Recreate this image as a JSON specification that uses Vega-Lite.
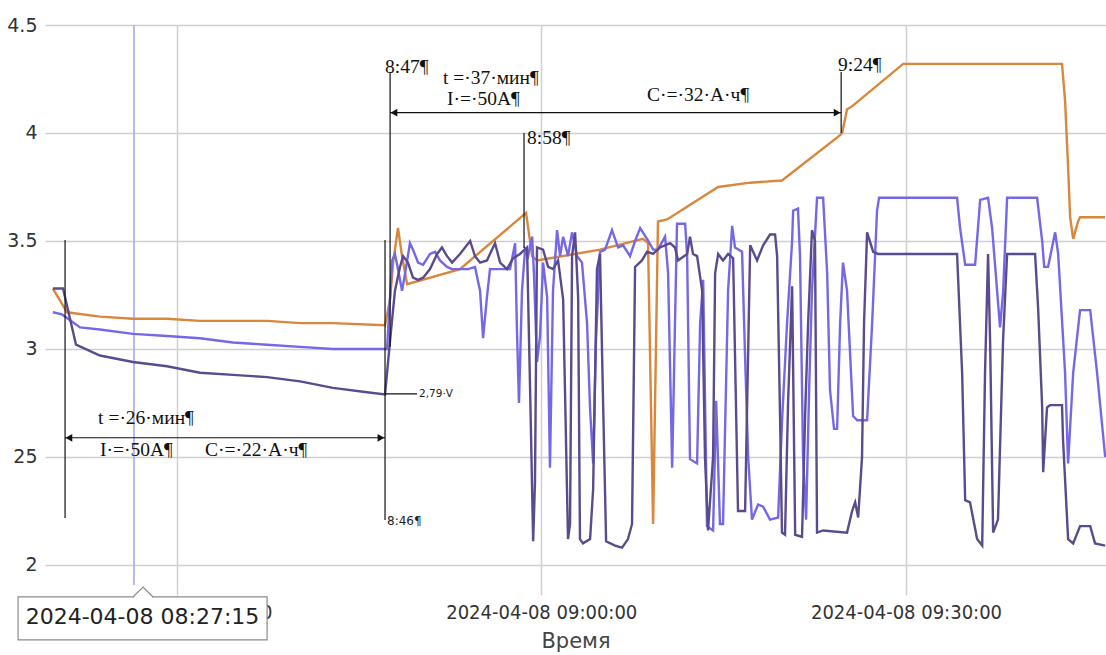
{
  "$schema": "https://vega.github.io/schema/vega-lite/v6.json",
  "width": 1061,
  "height": 560,
  "autosize": "none",
  "padding": {"left": 45, "top": 25, "right": 0, "bottom": 70},
  "background": "white",
  "config": {"view": {"stroke": null}},
  "datasets": {
    "volt": [
      {"s":"o","t":"2024-04-08T08:19:50","v":3.28},{"s":"o","t":"2024-04-08T08:21:00","v":3.17},{"s":"o","t":"2024-04-08T08:23:42","v":3.15},{"s":"o","t":"2024-04-08T08:26:25","v":3.14},{"s":"o","t":"2024-04-08T08:29:13","v":3.14},{"s":"o","t":"2024-04-08T08:31:56","v":3.13},{"s":"o","t":"2024-04-08T08:34:39","v":3.13},{"s":"o","t":"2024-04-08T08:37:27","v":3.13},{"s":"o","t":"2024-04-08T08:40:10","v":3.12},{"s":"o","t":"2024-04-08T08:42:52","v":3.12},{"s":"o","t":"2024-04-08T08:47:09","v":3.11},{"s":"o","t":"2024-04-08T08:47:34","v":3.23},{"s":"o","t":"2024-04-08T08:47:49","v":3.40},{"s":"o","t":"2024-04-08T08:48:13","v":3.56},{"s":"o","t":"2024-04-08T08:48:33","v":3.43},{"s":"o","t":"2024-04-08T08:48:58","v":3.30},{"s":"o","t":"2024-04-08T08:53:19","v":3.37},{"s":"o","t":"2024-04-08T08:58:45","v":3.63},{"s":"o","t":"2024-04-08T08:59:15","v":3.43},{"s":"o","t":"2024-04-08T08:59:39","v":3.41},{"s":"o","t":"2024-04-08T09:00:43","v":3.42},{"s":"o","t":"2024-04-08T09:04:50","v":3.46},{"s":"o","t":"2024-04-08T09:08:22","v":3.51},{"s":"o","t":"2024-04-08T09:08:47","v":3.49},{"s":"o","t":"2024-04-08T09:09:12","v":2.19},{"s":"o","t":"2024-04-08T09:09:36","v":3.59},{"s":"o","t":"2024-04-08T09:10:21","v":3.60},{"s":"o","t":"2024-04-08T09:14:33","v":3.75},{"s":"o","t":"2024-04-08T09:17:11","v":3.77},{"s":"o","t":"2024-04-08T09:19:48","v":3.78},{"s":"o","t":"2024-04-08T09:24:35","v":3.99},{"s":"o","t":"2024-04-08T09:24:45","v":4.00},{"s":"o","t":"2024-04-08T09:25:09","v":4.11},{"s":"o","t":"2024-04-08T09:25:29","v":4.12},{"s":"o","t":"2024-04-08T09:29:46","v":4.32},{"s":"o","t":"2024-04-08T09:42:50","v":4.32},{"s":"o","t":"2024-04-08T09:43:05","v":4.15},{"s":"o","t":"2024-04-08T09:43:20","v":3.84},{"s":"o","t":"2024-04-08T09:43:30","v":3.61},{"s":"o","t":"2024-04-08T09:43:45","v":3.51},{"s":"o","t":"2024-04-08T09:44:09","v":3.59},{"s":"o","t":"2024-04-08T09:44:19","v":3.61},{"s":"o","t":"2024-04-08T09:46:23","v":3.61},

      {"s":"v","t":"2024-04-08T08:19:50","v":3.17},{"s":"v","t":"2024-04-08T08:20:35","v":3.16},{"s":"v","t":"2024-04-08T08:22:04","v":3.10},{"s":"v","t":"2024-04-08T08:23:42","v":3.09},{"s":"v","t":"2024-04-08T08:26:25","v":3.07},{"s":"v","t":"2024-04-08T08:29:13","v":3.06},{"s":"v","t":"2024-04-08T08:31:56","v":3.05},{"s":"v","t":"2024-04-08T08:34:39","v":3.03},{"s":"v","t":"2024-04-08T08:37:27","v":3.02},{"s":"v","t":"2024-04-08T08:40:10","v":3.01},{"s":"v","t":"2024-04-08T08:42:52","v":3.00},{"s":"v","t":"2024-04-08T08:47:09","v":3.00},{"s":"v","t":"2024-04-08T08:47:19","v":3.00},{"s":"v","t":"2024-04-08T08:47:44","v":3.41},{"s":"v","t":"2024-04-08T08:47:58","v":3.44},{"s":"v","t":"2024-04-08T08:48:13","v":3.37},{"s":"v","t":"2024-04-08T08:48:33","v":3.27},{"s":"v","t":"2024-04-08T08:48:48","v":3.35},{"s":"v","t":"2024-04-08T08:49:12","v":3.49},{"s":"v","t":"2024-04-08T08:49:27","v":3.46},{"s":"v","t":"2024-04-08T08:49:52","v":3.40},{"s":"v","t":"2024-04-08T08:50:17","v":3.39},{"s":"v","t":"2024-04-08T08:50:51","v":3.44},{"s":"v","t":"2024-04-08T08:51:16","v":3.45},{"s":"v","t":"2024-04-08T08:51:40","v":3.41},{"s":"v","t":"2024-04-08T08:52:15","v":3.38},{"s":"v","t":"2024-04-08T08:52:40","v":3.37},{"s":"v","t":"2024-04-08T08:53:59","v":3.37},{"s":"v","t":"2024-04-08T08:54:33","v":3.38},{"s":"v","t":"2024-04-08T08:54:58","v":3.27},{"s":"v","t":"2024-04-08T08:55:13","v":3.05},{"s":"v","t":"2024-04-08T08:55:32","v":3.24},{"s":"v","t":"2024-04-08T08:55:47","v":3.37},{"s":"v","t":"2024-04-08T08:57:26","v":3.37},{"s":"v","t":"2024-04-08T08:57:51","v":3.49},{"s":"v","t":"2024-04-08T08:58:00","v":3.09},{"s":"v","t":"2024-04-08T08:58:10","v":2.75},{"s":"v","t":"2024-04-08T08:58:25","v":3.27},{"s":"v","t":"2024-04-08T08:58:40","v":3.46},{"s":"v","t":"2024-04-08T08:58:55","v":3.43},{"s":"v","t":"2024-04-08T08:59:15","v":3.52},{"s":"v","t":"2024-04-08T08:59:24","v":3.35},{"s":"v","t":"2024-04-08T08:59:39","v":2.94},{"s":"v","t":"2024-04-08T08:59:54","v":3.06},{"s":"v","t":"2024-04-08T09:00:09","v":3.40},{"s":"v","t":"2024-04-08T09:00:29","v":3.24},{"s":"v","t":"2024-04-08T09:00:43","v":2.45},{"s":"v","t":"2024-04-08T09:00:58","v":3.27},{"s":"v","t":"2024-04-08T09:01:18","v":3.55},{"s":"v","t":"2024-04-08T09:01:33","v":3.43},{"s":"v","t":"2024-04-08T09:01:48","v":3.52},{"s":"v","t":"2024-04-08T09:02:12","v":3.43},{"s":"v","t":"2024-04-08T09:02:32","v":3.54},{"s":"v","t":"2024-04-08T09:02:57","v":3.43},{"s":"v","t":"2024-04-08T09:03:21","v":3.40},{"s":"v","t":"2024-04-08T09:03:46","v":3.12},{"s":"v","t":"2024-04-08T09:04:01","v":2.72},{"s":"v","t":"2024-04-08T09:04:16","v":2.47},{"s":"v","t":"2024-04-08T09:04:30","v":3.04},{"s":"v","t":"2024-04-08T09:04:50","v":3.45},{"s":"v","t":"2024-04-08T09:05:15","v":3.46},{"s":"v","t":"2024-04-08T09:05:49","v":3.55},{"s":"v","t":"2024-04-08T09:06:19","v":3.47},{"s":"v","t":"2024-04-08T09:06:44","v":3.48},{"s":"v","t":"2024-04-08T09:07:18","v":3.43},{"s":"v","t":"2024-04-08T09:07:43","v":3.50},{"s":"v","t":"2024-04-08T09:08:08","v":3.56},{"s":"v","t":"2024-04-08T09:08:42","v":3.51},{"s":"v","t":"2024-04-08T09:09:12","v":3.46},{"s":"v","t":"2024-04-08T09:09:36","v":3.46},{"s":"v","t":"2024-04-08T09:10:11","v":3.52},{"s":"v","t":"2024-04-08T09:10:26","v":3.35},{"s":"v","t":"2024-04-08T09:10:46","v":2.45},{"s":"v","t":"2024-04-08T09:11:00","v":3.12},{"s":"v","t":"2024-04-08T09:11:10","v":3.58},{"s":"v","t":"2024-04-08T09:11:50","v":3.58},{"s":"v","t":"2024-04-08T09:12:00","v":3.43},{"s":"v","t":"2024-04-08T09:12:14","v":2.49},{"s":"v","t":"2024-04-08T09:12:49","v":2.47},{"s":"v","t":"2024-04-08T09:13:04","v":3.12},{"s":"v","t":"2024-04-08T09:13:19","v":3.32},{"s":"v","t":"2024-04-08T09:13:38","v":2.18},{"s":"v","t":"2024-04-08T09:14:08","v":2.16},{"s":"v","t":"2024-04-08T09:14:23","v":2.76},{"s":"v","t":"2024-04-08T09:14:42","v":2.19},{"s":"v","t":"2024-04-08T09:14:57","v":2.19},{"s":"v","t":"2024-04-08T09:15:22","v":3.27},{"s":"v","t":"2024-04-08T09:15:42","v":3.57},{"s":"v","t":"2024-04-08T09:15:56","v":3.47},{"s":"v","t":"2024-04-08T09:16:31","v":3.45},{"s":"v","t":"2024-04-08T09:16:46","v":2.96},{"s":"v","t":"2024-04-08T09:17:01","v":2.50},{"s":"v","t":"2024-04-08T09:17:20","v":2.21},{"s":"v","t":"2024-04-08T09:17:50","v":2.28},{"s":"v","t":"2024-04-08T09:18:15","v":2.27},{"s":"v","t":"2024-04-08T09:18:49","v":2.21},{"s":"v","t":"2024-04-08T09:19:29","v":2.22},{"s":"v","t":"2024-04-08T09:19:48","v":2.66},{"s":"v","t":"2024-04-08T09:20:13","v":3.12},{"s":"v","t":"2024-04-08T09:20:38","v":3.50},{"s":"v","t":"2024-04-08T09:20:43","v":3.64},{"s":"v","t":"2024-04-08T09:21:07","v":3.65},{"s":"v","t":"2024-04-08T09:21:17","v":3.43},{"s":"v","t":"2024-04-08T09:21:32","v":2.50},{"s":"v","t":"2024-04-08T09:21:47","v":2.21},{"s":"v","t":"2024-04-08T09:22:02","v":2.81},{"s":"v","t":"2024-04-08T09:22:16","v":3.27},{"s":"v","t":"2024-04-08T09:22:41","v":3.70},{"s":"v","t":"2024-04-08T09:23:11","v":3.70},{"s":"v","t":"2024-04-08T09:23:31","v":3.35},{"s":"v","t":"2024-04-08T09:23:45","v":2.81},{"s":"v","t":"2024-04-08T09:24:05","v":2.63},{"s":"v","t":"2024-04-08T09:24:20","v":2.63},{"s":"v","t":"2024-04-08T09:24:35","v":3.12},{"s":"v","t":"2024-04-08T09:24:49","v":3.40},{"s":"v","t":"2024-04-08T09:25:09","v":3.27},{"s":"v","t":"2024-04-08T09:25:39","v":2.69},{"s":"v","t":"2024-04-08T09:25:59","v":2.67},{"s":"v","t":"2024-04-08T09:26:48","v":2.67},{"s":"v","t":"2024-04-08T09:27:13","v":3.12},{"s":"v","t":"2024-04-08T09:27:37","v":3.64},{"s":"v","t":"2024-04-08T09:27:47","v":3.70},{"s":"v","t":"2024-04-08T09:34:12","v":3.70},{"s":"v","t":"2024-04-08T09:34:27","v":3.56},{"s":"v","t":"2024-04-08T09:34:52","v":3.39},{"s":"v","t":"2024-04-08T09:35:41","v":3.39},{"s":"v","t":"2024-04-08T09:36:06","v":3.69},{"s":"v","t":"2024-04-08T09:36:45","v":3.70},{"s":"v","t":"2024-04-08T09:37:05","v":3.56},{"s":"v","t":"2024-04-08T09:37:44","v":3.10},{"s":"v","t":"2024-04-08T09:37:59","v":3.26},{"s":"v","t":"2024-04-08T09:38:19","v":3.70},{"s":"v","t":"2024-04-08T09:40:47","v":3.70},{"s":"v","t":"2024-04-08T09:41:12","v":3.50},{"s":"v","t":"2024-04-08T09:41:22","v":3.38},{"s":"v","t":"2024-04-08T09:41:41","v":3.38},{"s":"v","t":"2024-04-08T09:42:16","v":3.54},{"s":"v","t":"2024-04-08T09:42:31","v":3.44},{"s":"v","t":"2024-04-08T09:43:05","v":2.89},{"s":"v","t":"2024-04-08T09:43:20","v":2.47},{"s":"v","t":"2024-04-08T09:43:45","v":2.89},{"s":"v","t":"2024-04-08T09:44:19","v":3.18},{"s":"v","t":"2024-04-08T09:45:09","v":3.18},{"s":"v","t":"2024-04-08T09:45:43","v":2.89},{"s":"v","t":"2024-04-08T09:46:23","v":2.50},

      {"s":"d","t":"2024-04-08T08:19:50","v":3.28},{"s":"d","t":"2024-04-08T08:20:40","v":3.28},{"s":"d","t":"2024-04-08T08:21:44","v":3.02},{"s":"d","t":"2024-04-08T08:23:42","v":2.97},{"s":"d","t":"2024-04-08T08:26:25","v":2.94},{"s":"d","t":"2024-04-08T08:29:13","v":2.92},{"s":"d","t":"2024-04-08T08:31:56","v":2.89},{"s":"d","t":"2024-04-08T08:34:39","v":2.88},{"s":"d","t":"2024-04-08T08:37:27","v":2.87},{"s":"d","t":"2024-04-08T08:40:10","v":2.85},{"s":"d","t":"2024-04-08T08:42:52","v":2.82},{"s":"d","t":"2024-04-08T08:45:40","v":2.80},{"s":"d","t":"2024-04-08T08:47:09","v":2.79},{"s":"d","t":"2024-04-08T08:47:34","v":3.04},{"s":"d","t":"2024-04-08T08:47:58","v":3.27},{"s":"d","t":"2024-04-08T08:48:23","v":3.38},{"s":"d","t":"2024-04-08T08:48:38","v":3.43},{"s":"d","t":"2024-04-08T08:49:02","v":3.40},{"s":"d","t":"2024-04-08T08:49:27","v":3.33},{"s":"d","t":"2024-04-08T08:49:52","v":3.32},{"s":"d","t":"2024-04-08T08:50:17","v":3.33},{"s":"d","t":"2024-04-08T08:50:51","v":3.37},{"s":"d","t":"2024-04-08T08:51:26","v":3.44},{"s":"d","t":"2024-04-08T08:51:50","v":3.47},{"s":"d","t":"2024-04-08T08:52:15","v":3.43},{"s":"d","t":"2024-04-08T08:52:40","v":3.40},{"s":"d","t":"2024-04-08T08:53:19","v":3.44},{"s":"d","t":"2024-04-08T08:54:09","v":3.50},{"s":"d","t":"2024-04-08T08:54:33","v":3.43},{"s":"d","t":"2024-04-08T08:54:58","v":3.40},{"s":"d","t":"2024-04-08T08:55:32","v":3.41},{"s":"d","t":"2024-04-08T08:56:12","v":3.49},{"s":"d","t":"2024-04-08T08:56:37","v":3.40},{"s":"d","t":"2024-04-08T08:57:11","v":3.37},{"s":"d","t":"2024-04-08T08:57:41","v":3.42},{"s":"d","t":"2024-04-08T08:58:15","v":3.44},{"s":"d","t":"2024-04-08T08:58:50","v":3.47},{"s":"d","t":"2024-04-08T08:59:05","v":2.81},{"s":"d","t":"2024-04-08T08:59:20","v":2.11},{"s":"d","t":"2024-04-08T08:59:29","v":2.38},{"s":"d","t":"2024-04-08T08:59:39","v":3.47},{"s":"d","t":"2024-04-08T09:00:09","v":3.46},{"s":"d","t":"2024-04-08T09:00:34","v":3.38},{"s":"d","t":"2024-04-08T09:00:58","v":3.37},{"s":"d","t":"2024-04-08T09:01:23","v":3.41},{"s":"d","t":"2024-04-08T09:01:48","v":3.23},{"s":"d","t":"2024-04-08T09:02:07","v":2.35},{"s":"d","t":"2024-04-08T09:02:12","v":2.12},{"s":"d","t":"2024-04-08T09:02:22","v":2.19},{"s":"d","t":"2024-04-08T09:02:32","v":3.43},{"s":"d","t":"2024-04-08T09:02:47","v":3.54},{"s":"d","t":"2024-04-08T09:03:02","v":3.24},{"s":"d","t":"2024-04-08T09:03:11","v":2.12},{"s":"d","t":"2024-04-08T09:03:26","v":2.10},{"s":"d","t":"2024-04-08T09:04:01","v":2.12},{"s":"d","t":"2024-04-08T09:04:16","v":2.35},{"s":"d","t":"2024-04-08T09:04:35","v":3.37},{"s":"d","t":"2024-04-08T09:04:50","v":3.44},{"s":"d","t":"2024-04-08T09:05:05","v":2.76},{"s":"d","t":"2024-04-08T09:05:20","v":2.11},{"s":"d","t":"2024-04-08T09:06:04","v":2.09},{"s":"d","t":"2024-04-08T09:06:39","v":2.08},{"s":"d","t":"2024-04-08T09:07:08","v":2.12},{"s":"d","t":"2024-04-08T09:07:28","v":2.19},{"s":"d","t":"2024-04-08T09:07:43","v":3.38},{"s":"d","t":"2024-04-08T09:08:17","v":3.41},{"s":"d","t":"2024-04-08T09:08:42","v":3.45},{"s":"d","t":"2024-04-08T09:09:12","v":3.44},{"s":"d","t":"2024-04-08T09:09:46","v":3.47},{"s":"d","t":"2024-04-08T09:10:36","v":3.49},{"s":"d","t":"2024-04-08T09:11:00","v":3.47},{"s":"d","t":"2024-04-08T09:11:15","v":3.41},{"s":"d","t":"2024-04-08T09:12:00","v":3.44},{"s":"d","t":"2024-04-08T09:12:14","v":3.52},{"s":"d","t":"2024-04-08T09:12:29","v":3.44},{"s":"d","t":"2024-04-08T09:12:49","v":3.43},{"s":"d","t":"2024-04-08T09:13:14","v":3.27},{"s":"d","t":"2024-04-08T09:13:28","v":2.50},{"s":"d","t":"2024-04-08T09:13:43","v":2.16},{"s":"d","t":"2024-04-08T09:14:08","v":2.50},{"s":"d","t":"2024-04-08T09:14:18","v":3.35},{"s":"d","t":"2024-04-08T09:14:33","v":3.44},{"s":"d","t":"2024-04-08T09:14:57","v":3.41},{"s":"d","t":"2024-04-08T09:15:22","v":3.44},{"s":"d","t":"2024-04-08T09:15:47","v":3.42},{"s":"d","t":"2024-04-08T09:16:11","v":2.25},{"s":"d","t":"2024-04-08T09:16:46","v":2.25},{"s":"d","t":"2024-04-08T09:17:11","v":3.48},{"s":"d","t":"2024-04-08T09:17:45","v":3.41},{"s":"d","t":"2024-04-08T09:18:15","v":3.48},{"s":"d","t":"2024-04-08T09:18:49","v":3.53},{"s":"d","t":"2024-04-08T09:19:14","v":3.53},{"s":"d","t":"2024-04-08T09:19:24","v":3.43},{"s":"d","t":"2024-04-08T09:19:39","v":2.66},{"s":"d","t":"2024-04-08T09:19:48","v":2.15},{"s":"d","t":"2024-04-08T09:20:03","v":2.14},{"s":"d","t":"2024-04-08T09:20:18","v":2.75},{"s":"d","t":"2024-04-08T09:20:38","v":3.29},{"s":"d","t":"2024-04-08T09:20:53","v":2.14},{"s":"d","t":"2024-04-08T09:21:27","v":2.13},{"s":"d","t":"2024-04-08T09:21:42","v":2.69},{"s":"d","t":"2024-04-08T09:21:57","v":3.12},{"s":"d","t":"2024-04-08T09:22:16","v":3.55},{"s":"d","t":"2024-04-08T09:22:31","v":3.50},{"s":"d","t":"2024-04-08T09:22:41","v":2.15},{"s":"d","t":"2024-04-08T09:23:11","v":2.16},{"s":"d","t":"2024-04-08T09:25:09","v":2.15},{"s":"d","t":"2024-04-08T09:25:34","v":2.25},{"s":"d","t":"2024-04-08T09:25:49","v":2.29},{"s":"d","t":"2024-04-08T09:26:04","v":2.22},{"s":"d","t":"2024-04-08T09:26:23","v":2.50},{"s":"d","t":"2024-04-08T09:26:33","v":3.12},{"s":"d","t":"2024-04-08T09:26:48","v":3.54},{"s":"d","t":"2024-04-08T09:27:18","v":3.45},{"s":"d","t":"2024-04-08T09:27:42","v":3.44},{"s":"d","t":"2024-04-08T09:34:12","v":3.44},{"s":"d","t":"2024-04-08T09:34:37","v":2.89},{"s":"d","t":"2024-04-08T09:34:52","v":2.30},{"s":"d","t":"2024-04-08T09:35:16","v":2.29},{"s":"d","t":"2024-04-08T09:35:51","v":2.12},{"s":"d","t":"2024-04-08T09:36:16","v":2.09},{"s":"d","t":"2024-04-08T09:36:30","v":2.89},{"s":"d","t":"2024-04-08T09:36:45","v":3.44},{"s":"d","t":"2024-04-08T09:36:55","v":3.04},{"s":"d","t":"2024-04-08T09:37:10","v":2.15},{"s":"d","t":"2024-04-08T09:37:34","v":2.21},{"s":"d","t":"2024-04-08T09:37:59","v":3.04},{"s":"d","t":"2024-04-08T09:38:19","v":3.44},{"s":"d","t":"2024-04-08T09:40:37","v":3.44},{"s":"d","t":"2024-04-08T09:40:52","v":3.19},{"s":"d","t":"2024-04-08T09:41:12","v":2.73},{"s":"d","t":"2024-04-08T09:41:17","v":2.43},{"s":"d","t":"2024-04-08T09:41:36","v":2.73},{"s":"d","t":"2024-04-08T09:41:51","v":2.74},{"s":"d","t":"2024-04-08T09:42:50","v":2.74},{"s":"d","t":"2024-04-08T09:42:55","v":2.58},{"s":"d","t":"2024-04-08T09:43:20","v":2.12},{"s":"d","t":"2024-04-08T09:43:45","v":2.10},{"s":"d","t":"2024-04-08T09:44:19","v":2.18},{"s":"d","t":"2024-04-08T09:45:09","v":2.18},{"s":"d","t":"2024-04-08T09:45:33","v":2.10},{"s":"d","t":"2024-04-08T09:46:23","v":2.09}
    ],
    "cursor": [{"t":"2024-04-08T08:26:30","v":4.5,"v2":1.9074}],
    "vrules": [
      {"t":"2024-04-08T08:20:50","v":3.505,"v2":2.218},
      {"t":"2024-04-08T08:47:09","v":3.505,"v2":2.208},
      {"t":"2024-04-08T08:47:34","v":4.282,"v2":3.01},
      {"t":"2024-04-08T08:58:35","v":4.0,"v2":3.468},
      {"t":"2024-04-08T09:24:40","v":4.282,"v2":4.0}
    ],
    "hrules": [
      {"t":"2024-04-08T08:20:50","t2":"2024-04-08T08:47:09","v":2.589},
      {"t":"2024-04-08T08:47:34","t2":"2024-04-08T09:24:40","v":4.094},
      {"t":"2024-04-08T08:47:09","t2":"2024-04-08T08:49:47","v":2.792}
    ],
    "arrows": [
      {"t":"2024-04-08T08:21:09","v":2.589,"d":"L"},
      {"t":"2024-04-08T08:46:49","v":2.589,"d":"R"},
      {"t":"2024-04-08T08:47:53","v":4.094,"d":"L"},
      {"t":"2024-04-08T09:24:20","v":4.094,"d":"R"}
    ],
    "notes": [
      {"t":"2024-04-08T08:23:33","v":2.681,"txt":"t =·26·мин¶"},
      {"t":"2024-04-08T08:23:42","v":2.532,"txt":"I·=·50A¶"},
      {"t":"2024-04-08T08:32:21","v":2.532,"txt":"C·=·22·A·ч¶"},
      {"t":"2024-04-08T08:51:55","v":4.255,"txt":"t =·37·мин¶"},
      {"t":"2024-04-08T08:52:15","v":4.157,"txt":"I·=·50A¶"},
      {"t":"2024-04-08T09:08:42","v":4.176,"txt":"C·=·32·A·ч¶"},
      {"t":"2024-04-08T08:47:09","v":4.306,"txt":"8:47¶"},
      {"t":"2024-04-08T08:58:50","v":3.977,"txt":"8:58¶"},
      {"t":"2024-04-08T09:24:25","v":4.315,"txt":"9:24¶"}
    ],
    "small": [
      {"t":"2024-04-08T08:47:19","v":2.205,"txt":"8:46¶","fs":12},
      {"t":"2024-04-08T08:49:57","v":2.792,"txt":"2,79·V","fs":10.5}
    ],
    "tipbox": [{"t":"2024-04-08T08:16:58","t2":"2024-04-08T08:37:27","v":1.852,"v2":1.653}],
    "tipgap": [{"t":"2024-04-08T08:26:30","t2":"2024-04-08T08:27:59","v":1.852}],
    "tipnotch": [
      {"t":"2024-04-08T08:26:25","v":1.852},
      {"t":"2024-04-08T08:27:15","v":1.898},
      {"t":"2024-04-08T08:28:04","v":1.852}
    ],
    "tiptext": [{"t":"2024-04-08T08:27:12","v":1.759,"txt":"2024-04-08 08:27:15"}]
  },
  "encoding": {
    "x": {
      "field": "t", "type": "temporal",
      "scale": {"domain": [
        {"year":2024,"month":4,"date":8,"hours":8,"minutes":19,"seconds":11},
        {"year":2024,"month":4,"date":8,"hours":9,"minutes":46,"seconds":27}
      ], "nice": false},
      "axis": {
        "values": [
          {"year":2024,"month":4,"date":8,"hours":8,"minutes":30},
          {"year":2024,"month":4,"date":8,"hours":9,"minutes":0},
          {"year":2024,"month":4,"date":8,"hours":9,"minutes":30}
        ],
        "format": "%Y-%m-%d %H:%M:%S",
        "title": "Время",
        "titleFont": "DejaVu Sans", "titleFontSize": 21, "titleFontWeight": "normal", "titleColor": "#444", "titlePadding": 8,
        "labelFont": "DejaVu Sans Condensed", "labelFontSize": 20, "labelColor": "#333", "labelPadding": 7, "labelFlush": false, "labelLimit": 0, "labelOverlap": false,
        "domain": false, "ticks": true, "tickSize": 10, "tickColor": "#cfcfcf", "tickWidth": 1.5,
        "grid": true, "gridColor": "#cfcfcf", "gridWidth": 1.5
      }
    },
    "y": {
      "field": "v", "type": "quantitative",
      "scale": {"domain": [1.9074, 4.5], "nice": false, "zero": false},
      "axis": {
        "values": [2, 2.5, 3, 3.5, 4, 4.5],
        "format": "~g",
        "labelExpr": "datum.value === 2.5 ? '25' : datum.label",
        "title": null,
        "labelFont": "DejaVu Sans", "labelFontSize": 19, "labelColor": "#333", "labelPadding": 8, "labelFlush": false,
        "domain": false, "ticks": false,
        "grid": true, "gridColor": "#cfcfcf", "gridWidth": 1.5
      }
    }
  },
  "layer": [
    {
      "data": {"name": "cursor"},
      "mark": {"type": "rule", "color": "#a4a9f2", "strokeWidth": 1.6},
      "encoding": {"y2": {"field": "v2"}}
    },
    {
      "data": {"name": "volt"},
      "mark": {"type": "line", "strokeWidth": 2.4},
      "encoding": {
        "color": {"field": "s", "type": "nominal", "scale": {"domain": ["v", "d", "o"], "range": ["#7468e8", "#5a4b8c", "#d8873c"]}, "legend": null}
      }
    },
    {
      "data": {"name": "vrules"},
      "mark": {"type": "rule", "color": "#111", "strokeWidth": 1.2},
      "encoding": {"y2": {"field": "v2"}}
    },
    {
      "data": {"name": "hrules"},
      "mark": {"type": "rule", "color": "#111", "strokeWidth": 1.2},
      "encoding": {"x2": {"field": "t2"}}
    },
    {
      "data": {"name": "arrows"},
      "mark": {"type": "point", "filled": true, "color": "#111", "opacity": 1, "size": 60},
      "encoding": {"shape": {"field": "d", "type": "nominal", "scale": {"domain": ["L", "R"], "range": ["triangle-left", "triangle-right"]}, "legend": null}}
    },
    {
      "data": {"name": "notes"},
      "mark": {"type": "text", "align": "left", "baseline": "middle", "font": "Liberation Serif", "fontSize": 19.5, "color": "#111"},
      "encoding": {"text": {"field": "txt"}}
    },
    {
      "data": {"name": "small"},
      "mark": {"type": "text", "align": "left", "baseline": "middle", "font": "DejaVu Sans", "color": "#222"},
      "encoding": {"text": {"field": "txt"}, "size": {"field": "fs", "type": "quantitative", "scale": null}}
    },
    {
      "data": {"name": "tipbox"},
      "mark": {"type": "rect", "fill": "white", "stroke": "#8a8a8a", "strokeWidth": 1.2},
      "encoding": {"x2": {"field": "t2"}, "y2": {"field": "v2"}}
    },
    {
      "data": {"name": "tipgap"},
      "mark": {"type": "rule", "color": "white", "strokeWidth": 2.5},
      "encoding": {"x2": {"field": "t2"}}
    },
    {
      "data": {"name": "tipnotch"},
      "mark": {"type": "line", "color": "#8a8a8a", "strokeWidth": 1.2},
      "encoding": {}
    },
    {
      "data": {"name": "tiptext"},
      "mark": {"type": "text", "align": "center", "baseline": "middle", "font": "DejaVu Sans", "fontSize": 22, "color": "#222"},
      "encoding": {"text": {"field": "txt"}}
    }
  ]
}
